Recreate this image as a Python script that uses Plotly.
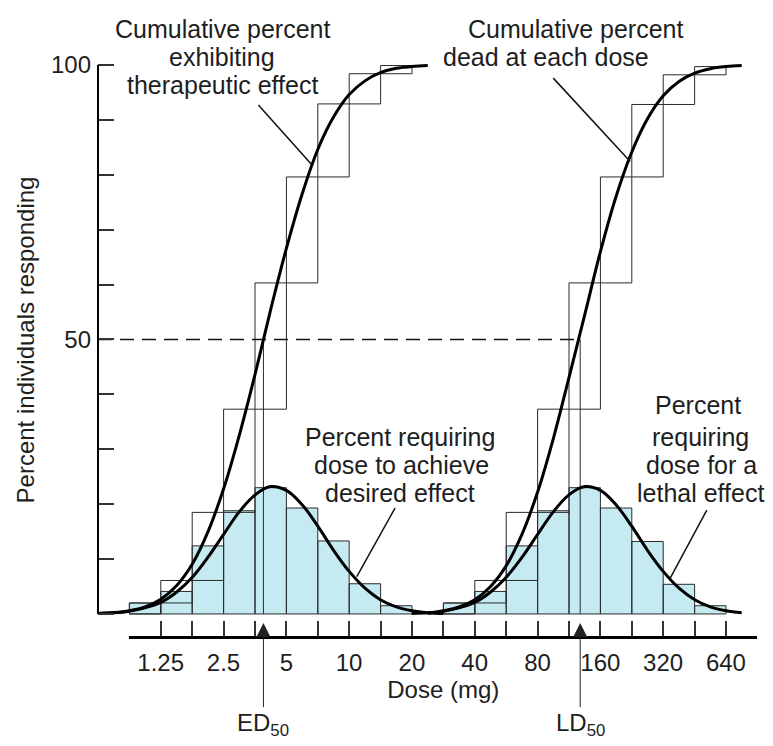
import numpy as np
import plotly.graph_objects as go

# ---------------- data ----------------
dose_labels = ["1.25", "2.5", "5", "10", "20", "40", "80", "160", "320", "640"]
label_doses = [1.25, 2.5, 5, 10, 20, 40, 80, 160, 320, 640]

# percent of individuals in each half-doubling dose bin
therapeutic_pct = [2.0, 4.1, 12.4, 18.8, 23.0, 19.3, 13.3, 5.5, 1.5]
lethal_pct = [2.0, 4.1, 12.4, 18.8, 23.0, 19.3, 13.2, 5.4, 1.5]

ed50 = 3.88
ld50 = 128.0

# smooth fitted curves (dose, percent)
bell_left_doses = [0.625, 0.743, 0.884, 1.05, 1.25, 1.49, 1.77, 2.10, 2.5, 2.97, 3.54, 4.20,
                   5.0, 5.95, 7.07, 8.41, 10.0, 11.9, 14.1, 16.8, 20.0, 23.8, 28.3]
bell_left_pct = [0.1, 0.2, 0.5, 1.1, 2.1, 4.0, 6.7, 10.3, 14.5, 18.6, 21.7, 23.2,
                 22.5, 19.9, 16.0, 11.6, 7.75, 4.7, 2.6, 1.3, 0.6, 0.24, 0.09]
cum_left_doses = [0.625, 0.743, 0.884, 1.05, 1.25, 1.49, 1.77, 2.10, 2.5, 2.97, 3.54, 4.20,
                  5.0, 5.95, 7.07, 8.41, 10.0, 11.9, 14.1, 16.8, 20.0, 23.8]
cum_left_pct = [0.1, 0.25, 0.6, 1.3, 2.7, 5.2, 9.1, 14.9, 22.8, 32.5, 43.7, 55.4,
                66.6, 76.5, 84.6, 90.5, 94.6, 97.1, 98.6, 99.4, 99.7, 99.9]

bell_right_doses = [20.0, 23.8, 28.3, 33.6, 40.0, 47.6, 56.6, 67.3, 80.0, 95.1, 113, 135,
                    160, 190, 226, 269, 320, 381, 453, 538, 640, 761]
bell_right_pct = [0.1, 0.2, 0.5, 1.1, 2.1, 4.0, 6.7, 10.3, 14.5, 18.6, 21.7, 23.2,
                  22.5, 19.9, 16.0, 11.6, 7.75, 4.7, 2.6, 1.3, 0.6, 0.24]
cum_right_doses = [23.8, 28.3, 33.6, 40.0, 47.6, 56.6, 67.3, 80.0, 95.1, 113, 135,
                   160, 190, 226, 269, 320, 381, 453, 538, 640, 761]
cum_right_pct = [0.1, 0.57, 1.27, 2.6, 5.0, 8.8, 14.5, 22.2, 31.9, 43.0, 54.7,
                 66.0, 76.0, 84.1, 90.2, 94.4, 97.0, 98.5, 99.3, 99.7, 99.9]

# callout leader lines (dose, percent) : start, end
leader_cum_left = ([3.67, 6.62], [92.7, 81.8])
leader_cum_right = ([95.1, 222.3], [97.6, 82.4])
leader_bell_left = ([16.6, 10.87], [19.3, 6.8])
leader_bell_right = ([517.8, 345.3], [18.9, 6.5])

# ---------------- geometry ----------------
# the page has an 8px body margin, so the figure is 8px smaller and
# reference pixel positions are shifted by 8px.
OFF = 8
W, H = 773 - OFF, 746 - OFF
L, R, T, B = 98 - OFF, 3, 40 - OFF, 109
PW, PH = W - L - R, H - T - B


def pxx(x):
    return (x - OFF - L) / PW


def pxy(y):
    return (H - B - (y - OFF)) / PH


FONT = "Liberation Sans, Arial, Helvetica, sans-serif"
TXT = "#1e1e1e"

s2 = np.sqrt(2.0)
tick_doses = []
for d in label_doses:
    tick_doses += [d / s2, d]
tick_doses.append(label_doses[-1] * s2)
tick_text = []
for lab in dose_labels:
    tick_text += ["", lab]
tick_text.append("")

left_edges = tick_doses[0:10]
right_edges = tick_doses[10:20]


def bars_path(edges, heights):
    xs, ys = [], []
    for i, h in enumerate(heights):
        xl, xr = edges[i], edges[i + 1]
        xs += [xl, xl, xr, xr, xl, None]
        ys += [0, h, h, 0, 0, None]
    return xs, ys


def cum_path(edges, heights):
    """stacked cumulative steps: interval i spans [C(i-1), C(i)]"""
    cum = np.cumsum(heights)
    xs, ys = [], []
    prev = 0.0
    for i, c in enumerate(cum):
        xl, xr = edges[i], edges[i + 1]
        xs += [xl, xl, xr, xr, xl, None]
        ys += [prev, c, c, prev, prev, None]
        prev = c
    return xs, ys


fig = go.Figure()

for edges, pct in [(left_edges, therapeutic_pct), (right_edges, lethal_pct)]:
    bx, by = bars_path(edges, pct)
    fig.add_trace(go.Scatter(x=bx, y=by, mode="lines", fill="toself",
                             fillcolor="#c6eaf1", line=dict(color="#2b2b2b", width=1),
                             hoverinfo="skip", showlegend=False))
    cx, cy = cum_path(edges, pct)
    fig.add_trace(go.Scatter(x=cx, y=cy, mode="lines",
                             line=dict(color="#2b2b2b", width=1),
                             hoverinfo="skip", showlegend=False))

# 50% dashed line and ED50 / LD50 verticals
fig.add_trace(go.Scatter(x=[bell_left_doses[0], ld50], y=[50, 50], mode="lines",
                         line=dict(color="#111", width=1.5, dash="14px,8px"),
                         hoverinfo="skip", showlegend=False))
for d in (ed50, ld50):
    fig.add_trace(go.Scatter(x=[d, d], y=[0, 50], mode="lines",
                             line=dict(color="#2b2b2b", width=1),
                             hoverinfo="skip", showlegend=False))

# smooth curves
for xs, ys in [(bell_left_doses, bell_left_pct), (cum_left_doses, cum_left_pct),
               (bell_right_doses, bell_right_pct), (cum_right_doses, cum_right_pct)]:
    fig.add_trace(go.Scatter(x=xs, y=ys, mode="lines",
                             line=dict(color="#000", width=3, shape="spline", smoothing=1.0),
                             hoverinfo="skip", showlegend=False))

# leader lines
for xs, ys in [leader_cum_left, leader_cum_right, leader_bell_left, leader_bell_right]:
    fig.add_trace(go.Scatter(x=xs, y=ys, mode="lines",
                             line=dict(color="#111", width=1.5),
                             hoverinfo="skip", showlegend=False))

# invisible trace so the dose axis is drawn
fig.add_trace(go.Scatter(x=[10], y=[50], xaxis="x2", yaxis="y", mode="markers",
                         marker=dict(opacity=0), hoverinfo="skip", showlegend=False))

x_lo = bell_left_doses[0]
x_hi = 1040.0

fig.update_layout(
    width=W, height=H,
    margin=dict(l=L, r=R, t=T, b=B),
    plot_bgcolor="rgba(0,0,0,0)", paper_bgcolor="white",
    font=dict(family=FONT, size=24, color=TXT),
    xaxis=dict(type="log", range=[np.log10(x_lo), np.log10(x_hi)], domain=[0, 1],
               showline=False, showticklabels=False, ticks="", showgrid=False,
               zeroline=False),
    xaxis2=dict(type="log", range=[np.log10(tick_doses[0]), np.log10(tick_doses[-1])],
                domain=[pxx(129.3), pxx(757.3)], anchor="free", position=0,
                showline=True, linecolor="#000", linewidth=2.5,
                ticks="inside", ticklen=15, tickwidth=1.5, tickcolor="#333",
                tickmode="array", tickvals=tick_doses, ticktext=tick_text,
                tickfont=dict(size=24, color=TXT), ticklabelstandoff=3,
                showgrid=False, zeroline=False,
                title=dict(text="Dose (mg)", font=dict(size=24, color=TXT), standoff=6)),
    yaxis=dict(range=[-1.1, 100.9], domain=[pxy(620), pxy(60)],
               showline=False, ticks="inside", ticklen=16, tickwidth=1.5, tickcolor="#333",
               tickmode="array", tickvals=list(range(0, 101, 10)),
               ticktext=["" if v not in (50, 100) else str(v) for v in range(0, 101, 10)],
               tickfont=dict(size=24, color=TXT), ticklabelstandoff=6,
               showgrid=False, zeroline=False,
               title=dict(text="Percent individuals responding",
                          font=dict(size=24, color=TXT), standoff=9)),
    shapes=[dict(type="line", xref="paper", yref="y", x0=0, x1=0, y0=0, y1=100,
                 line=dict(color="#000", width=2))],
)

texts = [
    ("Cumulative percent", 222, 29), ("exhibiting", 222, 57), ("therapeutic effect", 222, 85),
    ("Cumulative percent", 575, 29), ("dead at each dose", 546, 57),
    ("Percent requiring", 400, 437), ("dose to achieve", 401, 465), ("desired effect", 400, 493),
    ("Percent", 698, 405), ("requiring", 700, 437), ("dose for a", 701, 465),
    ("lethal effect", 700, 493),
]
for t, x, y in texts:
    fig.add_annotation(text=t, x=pxx(x), y=pxy(y), xref="paper", yref="paper",
                       xanchor="center", yanchor="middle", showarrow=False,
                       font=dict(size=25, color=TXT, family=FONT))

for lab, d in [("ED<sub>50</sub>", ed50), ("LD<sub>50</sub>", ld50)]:
    fig.add_annotation(text=lab, x=np.log10(d), y=pxy(623), xref="x", yref="paper",
                       showarrow=True, arrowhead=2, arrowsize=2.8, arrowwidth=1,
                       arrowcolor="#222", ax=0, ay=101,
                       font=dict(size=24, color=TXT, family=FONT))

fig.write_html("out.html")
